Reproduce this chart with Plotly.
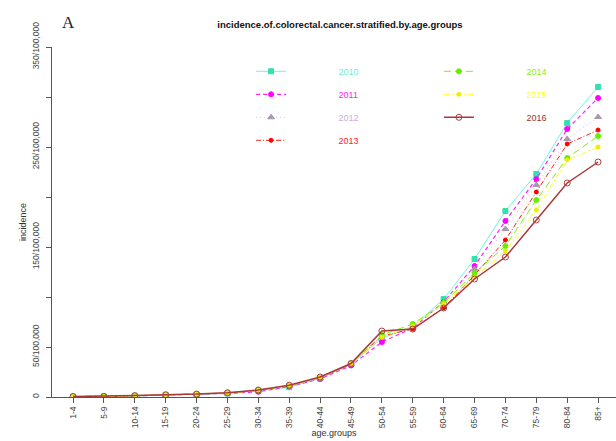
import plotly.graph_objects as go

age_groups = ["1-4", "5-9", "10-14", "15-19", "20-24", "25-29", "30-34", "35-39", "40-44",
              "45-49", "50-54", "55-59", "60-64", "65-69", "70-74", "75-79", "80-84", "85+"]
years = ["2010", "2011", "2012", "2013", "2014", "2015", "2016"]

inc_2010 = [0.4, 0.5, 1.1, 1.9, 2.4, 3.5, 6.0, 9.8, 18.5, 32.5, 59, 70, 98, 138, 186, 223, 274, 310]
inc_2011 = [0.4, 0.5, 1.1, 2.0, 2.5, 3.6, 5.2, 10.5, 18.0, 31.5, 55, 69, 95, 131, 176, 218, 268, 299]
inc_2012 = [0.5, 0.5, 1.2, 2.0, 2.6, 3.8, 6.4, 11.0, 19.0, 33.0, 59, 70, 95, 128, 168, 212, 258, 280]
inc_2013 = [0.5, 0.5, 1.3, 2.1, 2.7, 4.0, 6.8, 11.5, 19.5, 33.0, 61, 68, 89, 122, 157, 205, 253, 267]
inc_2014 = [0.5, 0.5, 1.2, 2.0, 2.6, 3.8, 6.6, 11.2, 19.2, 33.5, 62, 73, 94, 124, 151, 197, 239, 261]
inc_2015 = [0.5, 0.5, 1.3, 2.2, 2.8, 4.0, 6.8, 11.5, 19.5, 33.0, 60, 71, 93, 120, 146, 187, 237, 250]
inc_2016 = [0.5, 0.6, 1.4, 2.3, 2.9, 4.3, 7.0, 11.8, 20.0, 33.5, 66, 68, 89, 118, 140, 177, 214, 235]
series = [inc_2010, inc_2011, inc_2012, inc_2013, inc_2014, inc_2015, inc_2016]

y_tick_vals = [0, 50, 100, 150, 200, 250, 300, 350]
y_tick_text = ["0", "50/100,000", "", "150/100,000", "", "250/100,000", "", "350/100,000"]

# styles
line_colors = ["#6ff5dc", "#ff22ff", "#e2cde2", "#ff2020", "#80f010", "#ffff20", "#a83838"]
marker_colors = ["#33e0b0", "#ff00ff", "#a898b0", "#ff0000", "#66ee00", "#eeee00", "#b04040"]
text_colors = ["#66f0d8", "#ff22ff", "#c8b0c8", "#ff2222", "#88ee22", "#ffff22", "#a03030"]
dashes = ["solid", "4px,3px", "1px,3px", "5px,2px,1px,2px", "7px,4px", "6px,2px,2px,2px", "solid"]
symbols = ["square", "circle", "triangle-up", "circle", "circle", "circle", "circle-open"]
msizes = [5, 5, 6, 4, 5, 4, 6]
widths = [1.0, 1.2, 1.2, 1.0, 1.0, 1.0, 1.5]

x_idx = list(range(len(age_groups)))
pad = "\u00a0" * 19

fig = go.Figure()
for i, (yr, vals) in enumerate(zip(years, series)):
    fig.add_trace(go.Scatter(
        x=x_idx, y=vals, mode="lines+markers",
        name=f"{pad}<span style='color:{text_colors[i]}'>{yr}</span>",
        legendgroup=yr,
        legend="legend" if i < 4 else "legend2",
        line=dict(color=line_colors[i], dash=dashes[i], width=widths[i]),
        marker=dict(color=marker_colors[i], symbol=symbols[i], size=msizes[i],
                    line=dict(color=marker_colors[i], width=1)),
    ))

fig.update_layout(
    width=616, height=441,
    margin=dict(l=52, r=0, t=47, b=44),
    paper_bgcolor="white", plot_bgcolor="white",
    font=dict(family="Liberation Sans, Arial, sans-serif", size=9, color="#333"),
    title=dict(text="<b>incidence.of.colorectal.cancer.stratified.by.age.groups</b>",
               x=340 / 616, xanchor="center", y=1 - 25 / 441, yanchor="middle",
               font=dict(size=9.5, color="#111")),
    legend=dict(x=0.353, xanchor="left", y=0.972, yanchor="top", bgcolor="rgba(0,0,0,0)",
                tracegroupgap=4, font=dict(size=9)),
    legend2=dict(x=0.686, xanchor="left", y=0.972, yanchor="top", bgcolor="rgba(0,0,0,0)",
                 tracegroupgap=4, font=dict(size=9)),
    showlegend=True,
)

fig.update_xaxes(
    range=[-0.68, 17.58], tickmode="array", tickvals=x_idx, ticktext=age_groups,
    tickangle=-90, ticks="outside", ticklen=5, tickcolor="#555", showline=True,
    linecolor="#555", linewidth=1, showgrid=False, zeroline=False,
    tickfont=dict(size=8.5, color="#444"),
    title=dict(text="age.groups", font=dict(size=9, color="#333"), standoff=0),
)
fig.update_yaxes(
    range=[0, 350], tickmode="array", tickvals=y_tick_vals, ticktext=y_tick_text,
    tickangle=-90, ticks="outside", ticklen=5, tickcolor="#555", showline=True,
    linecolor="#555", linewidth=1, showgrid=False, zeroline=False,
    tickfont=dict(size=8.5, color="#444"), ticklabelstandoff=4,
    title=dict(text="incidence", font=dict(size=9, color="#333"), standoff=2),
)

fig.add_annotation(text="A", xref="paper", yref="paper", x=(60 - 52) / 564, y=1 + (47 - 22) / 350,
                   xanchor="left", yanchor="middle", showarrow=False,
                   font=dict(family="Liberation Serif, serif", size=17, color="#222"))

fig.write_html("out.html")
